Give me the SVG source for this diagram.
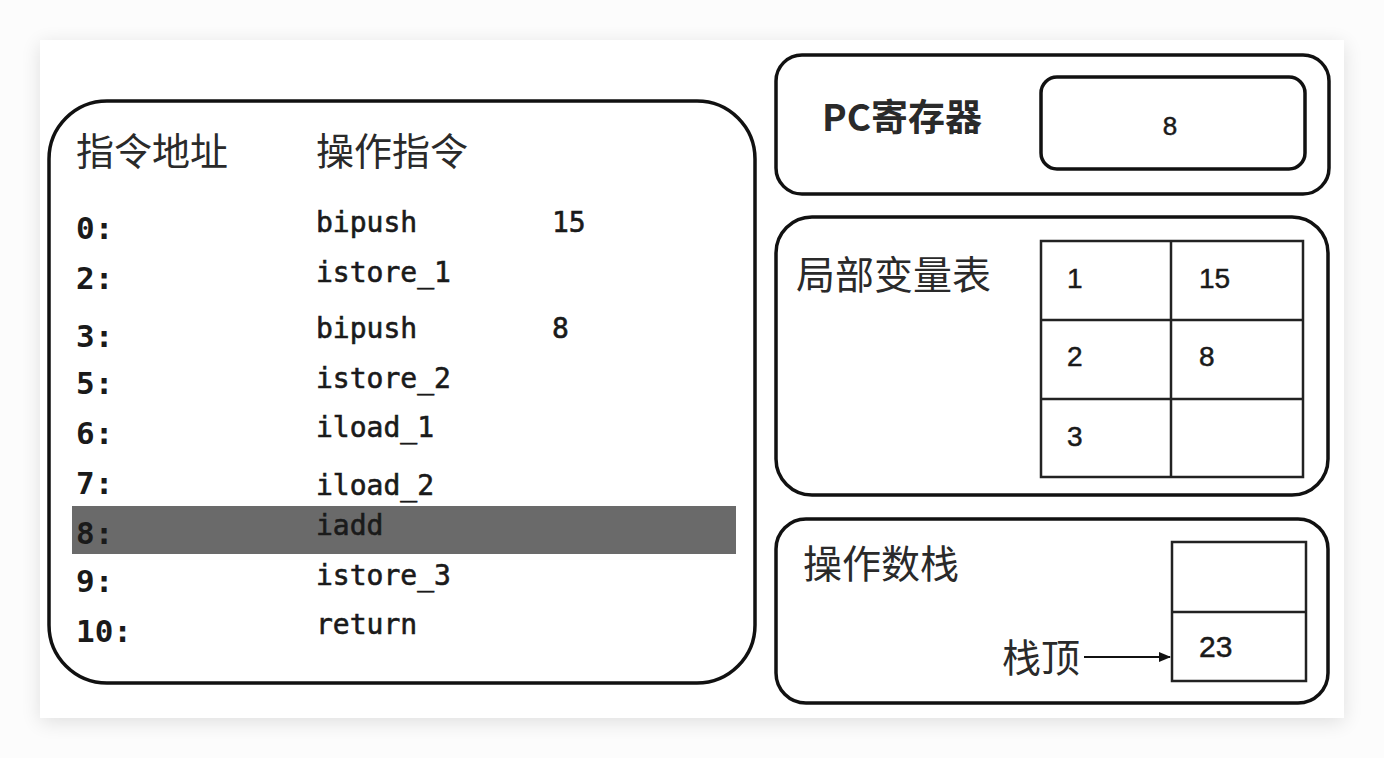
<svg xmlns="http://www.w3.org/2000/svg" width="1384" height="758" viewBox="0 0 1384 758">
<defs>
<filter id="sh" x="-5%" y="-5%" width="110%" height="115%">
<feGaussianBlur in="SourceAlpha" stdDeviation="10"/>
<feOffset dy="4"/>
<feComponentTransfer><feFuncA type="linear" slope="0.12"/></feComponentTransfer>
<feMerge><feMergeNode/><feMergeNode in="SourceGraphic"/></feMerge>
</filter>
<marker id="arr" markerWidth="12" markerHeight="10" refX="11" refY="5" orient="auto" markerUnits="userSpaceOnUse">
<path d="M0,0 L12,5 L0,10 Z" fill="#111"/>
</marker>
</defs>
<style>
.box{fill:#fff;stroke:#111;stroke-width:3.5}
.cell{fill:none;stroke:#222;stroke-width:2.5}
.cjk{font-family:"Noto Sans CJK SC","Noto Sans",sans-serif;font-size:38px;fill:#2a2a2a}
.addr{font-family:"DejaVu Sans Mono","Liberation Mono",monospace;font-size:31px;font-weight:bold;fill:#1a1a1a}
.ins{font-family:"DejaVu Sans Mono","Liberation Mono",monospace;font-size:28px;fill:#1a1a1a;stroke:#1a1a1a;stroke-width:0.6}
.num{font-family:"Liberation Sans","Noto Sans",sans-serif;font-size:28px;fill:#1a1a1a;stroke:#1a1a1a;stroke-width:0.5}
</style>
<rect width="1384" height="758" fill="#fcfcfc"/>
<rect x="40" y="40" width="1304" height="678" fill="#fff" filter="url(#sh)"/>

<g id="instructions">
<rect class="box" x="49" y="101" width="706" height="582" rx="58" ry="58"/>
<rect x="72" y="506" width="664" height="48" fill="#6a6a6a"/>
<text class="cjk" x="76" y="165">指令地址</text>
<text class="cjk" x="316" y="165">操作指令</text>
<text class="addr" x="76" y="239">0:</text>
<text class="addr" x="76" y="289">2:</text>
<text class="addr" x="76" y="347">3:</text>
<text class="addr" x="76" y="394">5:</text>
<text class="addr" x="76" y="444">6:</text>
<text class="addr" x="76" y="494">7:</text>
<text class="addr" x="76" y="544">8:</text>
<text class="addr" x="76" y="592">9:</text>
<text class="addr" x="76" y="642">10:</text>
<text class="ins" x="316" y="232">bipush</text>
<text class="ins" x="316" y="282">istore_1</text>
<text class="ins" x="316" y="338">bipush</text>
<text class="ins" x="316" y="388">istore_2</text>
<text class="ins" x="316" y="437">iload_1</text>
<text class="ins" x="316" y="495">iload_2</text>
<text class="ins" x="316" y="535">iadd</text>
<text class="ins" x="316" y="585">istore_3</text>
<text class="ins" x="316" y="634">return</text>
<text class="ins" x="552" y="232">15</text>
<text class="ins" x="552" y="338">8</text>
</g>

<g id="pc-register">
<rect class="box" x="776" y="55" width="553" height="139" rx="26" ry="26"/>
<rect class="box" x="1041" y="77" width="264" height="92" rx="16" ry="16"/>
<text class="cjk" x="822" y="131" font-weight="bold" style="font-size:37px">PC寄存器</text>
<text class="num" x="1170" y="135" text-anchor="middle" style="font-size:26px">8</text>
</g>

<g id="local-vars">
<rect class="box" x="776" y="217" width="552" height="278" rx="36" ry="36"/>
<text class="cjk" x="796" y="289" style="font-size:39px">局部变量表</text>
<rect class="cell" x="1041" y="241" width="262" height="236"/>
<line class="cell" x1="1171" y1="241" x2="1171" y2="477"/>
<line class="cell" x1="1041" y1="320" x2="1303" y2="320"/>
<line class="cell" x1="1041" y1="399" x2="1303" y2="399"/>
<text class="num" x="1067" y="288">1</text>
<text class="num" x="1199" y="288">15</text>
<text class="num" x="1067" y="366">2</text>
<text class="num" x="1199" y="366">8</text>
<text class="num" x="1067" y="446">3</text>
</g>

<g id="operand-stack">
<rect class="box" x="776" y="519" width="552" height="184" rx="30" ry="30"/>
<text class="cjk" x="803" y="578" style="font-size:39px">操作数栈</text>
<rect class="cell" x="1172" y="542" width="134" height="139"/>
<line class="cell" x1="1172" y1="612" x2="1306" y2="612"/>
<text class="num" x="1199" y="657" style="font-size:30px">23</text>
<text class="cjk" x="1002" y="672" style="font-size:39px">栈顶</text>
</g>

<g id="connectors">
<line x1="1084" y1="657" x2="1170" y2="657" stroke="#111" stroke-width="2" marker-end="url(#arr)"/>
</g>
</svg>
